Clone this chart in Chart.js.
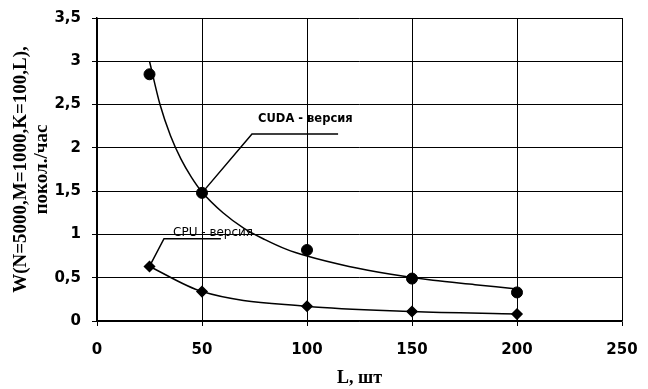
<!DOCTYPE html>
<html>
<head>
<meta charset="utf-8">
<script src="https://cdn.jsdelivr.net/npm/chart.js@4/dist/chart.umd.min.js"></script>
<style>
  html, body { margin: 0; padding: 0; background: #fff; }
  #wrap { width: 648px; height: 389px; }
</style>
</head>
<body>
<div id="wrap"><canvas id="grafico" width="648" height="389"></canvas></div>
<script>
// Данные
const lValues = [25, 50, 100, 150, 200];
const cudaValues = [2.85, 1.48, 0.82, 0.49, 0.33];
const cpuValues = [0.63, 0.34, 0.17, 0.11, 0.08];

// линия тренда CUDA
const cudaTrendL = [25, 30, 35, 40, 45, 50, 60, 70, 80, 90, 100, 120, 140, 160, 180, 200];
const cudaTrendW = [3.0, 2.5, 2.14, 1.87, 1.66, 1.49, 1.25, 1.07, 0.94, 0.83, 0.75, 0.63, 0.54, 0.47, 0.42, 0.37];

const xTicks = [0, 50, 100, 150, 200, 250];
const yTicks = [0, 0.5, 1, 1.5, 2, 2.5, 3, 3.5];

const yTitle = ['W(N=5000,M=1000,K=100,L),', 'покол./час'];
const xTitle = 'L, шт';

// подписи-выноски: [текст, x точки, y точки, x излома, y излома, x конца, x текста, y текста]
const callouts = [
  ['CUDA - версия', 50, 1.48, 73.8, 2.16, 114.8, 76.7, 2.33, 'bold 11.5px "DejaVu Sans"'],
  ['CPU - версия', 25, 0.63, 31.9, 0.95, 59, 36.2, 1.02, '12px "DejaVu Sans"']
];

const toXY = (xs, ys) => xs.map((x, i) => ({ x: x, y: ys[i] }));

const calloutPlugin = {
  id: 'callouts',
  afterDatasetsDraw(chart) {
    const ctx = chart.ctx;
    const sx = chart.scales.x;
    const sy = chart.scales.y;
    ctx.save();
    ctx.strokeStyle = '#000';
    ctx.lineWidth = 1.5;
    ctx.fillStyle = '#000';
    callouts.forEach(c => {
      ctx.beginPath();
      ctx.moveTo(sx.getPixelForValue(c[1]), sy.getPixelForValue(c[2]));
      ctx.lineTo(sx.getPixelForValue(c[3]), sy.getPixelForValue(c[4]));
      ctx.lineTo(sx.getPixelForValue(c[5]), sy.getPixelForValue(c[4]));
      ctx.stroke();
      ctx.font = c[8];
      ctx.textAlign = 'left';
      ctx.textBaseline = 'middle';
      ctx.fillText(c[0], sx.getPixelForValue(c[6]), sy.getPixelForValue(c[7]));
    });
    ctx.restore();
  }
};

new Chart(document.getElementById('grafico'), {
  type: 'scatter',
  data: {
    datasets: [
      {
        label: 'CUDA тренд',
        data: toXY(cudaTrendL, cudaTrendW),
        showLine: true,
        borderColor: '#000',
        borderWidth: 1.5,
        pointRadius: 0,
        tension: 0.4,
        cubicInterpolationMode: 'monotone'
      },
      {
        label: 'CUDA - версия',
        data: toXY(lValues, cudaValues),
        showLine: false,
        backgroundColor: '#000',
        borderColor: '#000',
        pointStyle: 'circle',
        pointRadius: 5.5
      },
      {
        label: 'CPU - версия',
        data: toXY(lValues, cpuValues),
        showLine: true,
        borderColor: '#000',
        borderWidth: 1.5,
        backgroundColor: '#000',
        pointStyle: 'rectRot',
        pointRadius: 5,
        cubicInterpolationMode: 'monotone'
      }
    ]
  },
  options: {
    responsive: false,
    animation: false,
    layout: { padding: { top: 18, right: 26, left: 0, bottom: 0 } },
    plugins: { legend: { display: false }, tooltip: { enabled: false } },
    scales: {
      x: {
        type: 'linear',
        min: 0,
        max: 250,
        afterFit: s => { s.height = 68; s.paddingRight = 0; s.paddingLeft = 0; },
        afterBuildTicks: s => { s.ticks = xTicks.map(v => ({ value: v })); },
        ticks: {
          color: '#000',
          padding: 15,
          font: { family: '"DejaVu Sans"', size: 15, weight: 'bold' }
        },
        grid: { color: '#000', lineWidth: 1, tickLength: 5 },
        border: { color: '#000', width: 1.5 },
        title: {
          display: true,
          text: xTitle,
          color: '#000',
          padding: { top: 0, bottom: 0 },
          font: { family: '"Liberation Serif"', size: 18, weight: 'bold', lineHeight: 1.15 }
        }
      },
      y: {
        min: 0,
        max: 3.5,
        afterFit: s => { s.width = 97; s.paddingTop = 0; s.paddingBottom = 0; },
        afterBuildTicks: s => { s.ticks = yTicks.map(v => ({ value: v })); },
        ticks: {
          color: '#000',
          padding: 11,
          font: { family: '"DejaVu Sans"', size: 15, weight: 'bold' },
          callback: v => String(v).replace('.', ',')
        },
        grid: { color: '#000', lineWidth: 1, tickLength: 5 },
        border: { color: '#000', width: 1.5 },
        title: {
          display: true,
          text: yTitle,
          color: '#000',
          padding: { top: 11, bottom: 0 },
          font: { family: '"Liberation Serif"', size: 19, weight: 'bold', lineHeight: 1.1 }
        }
      }
    }
  },
  plugins: [calloutPlugin]
});
</script>
</body>
</html>
